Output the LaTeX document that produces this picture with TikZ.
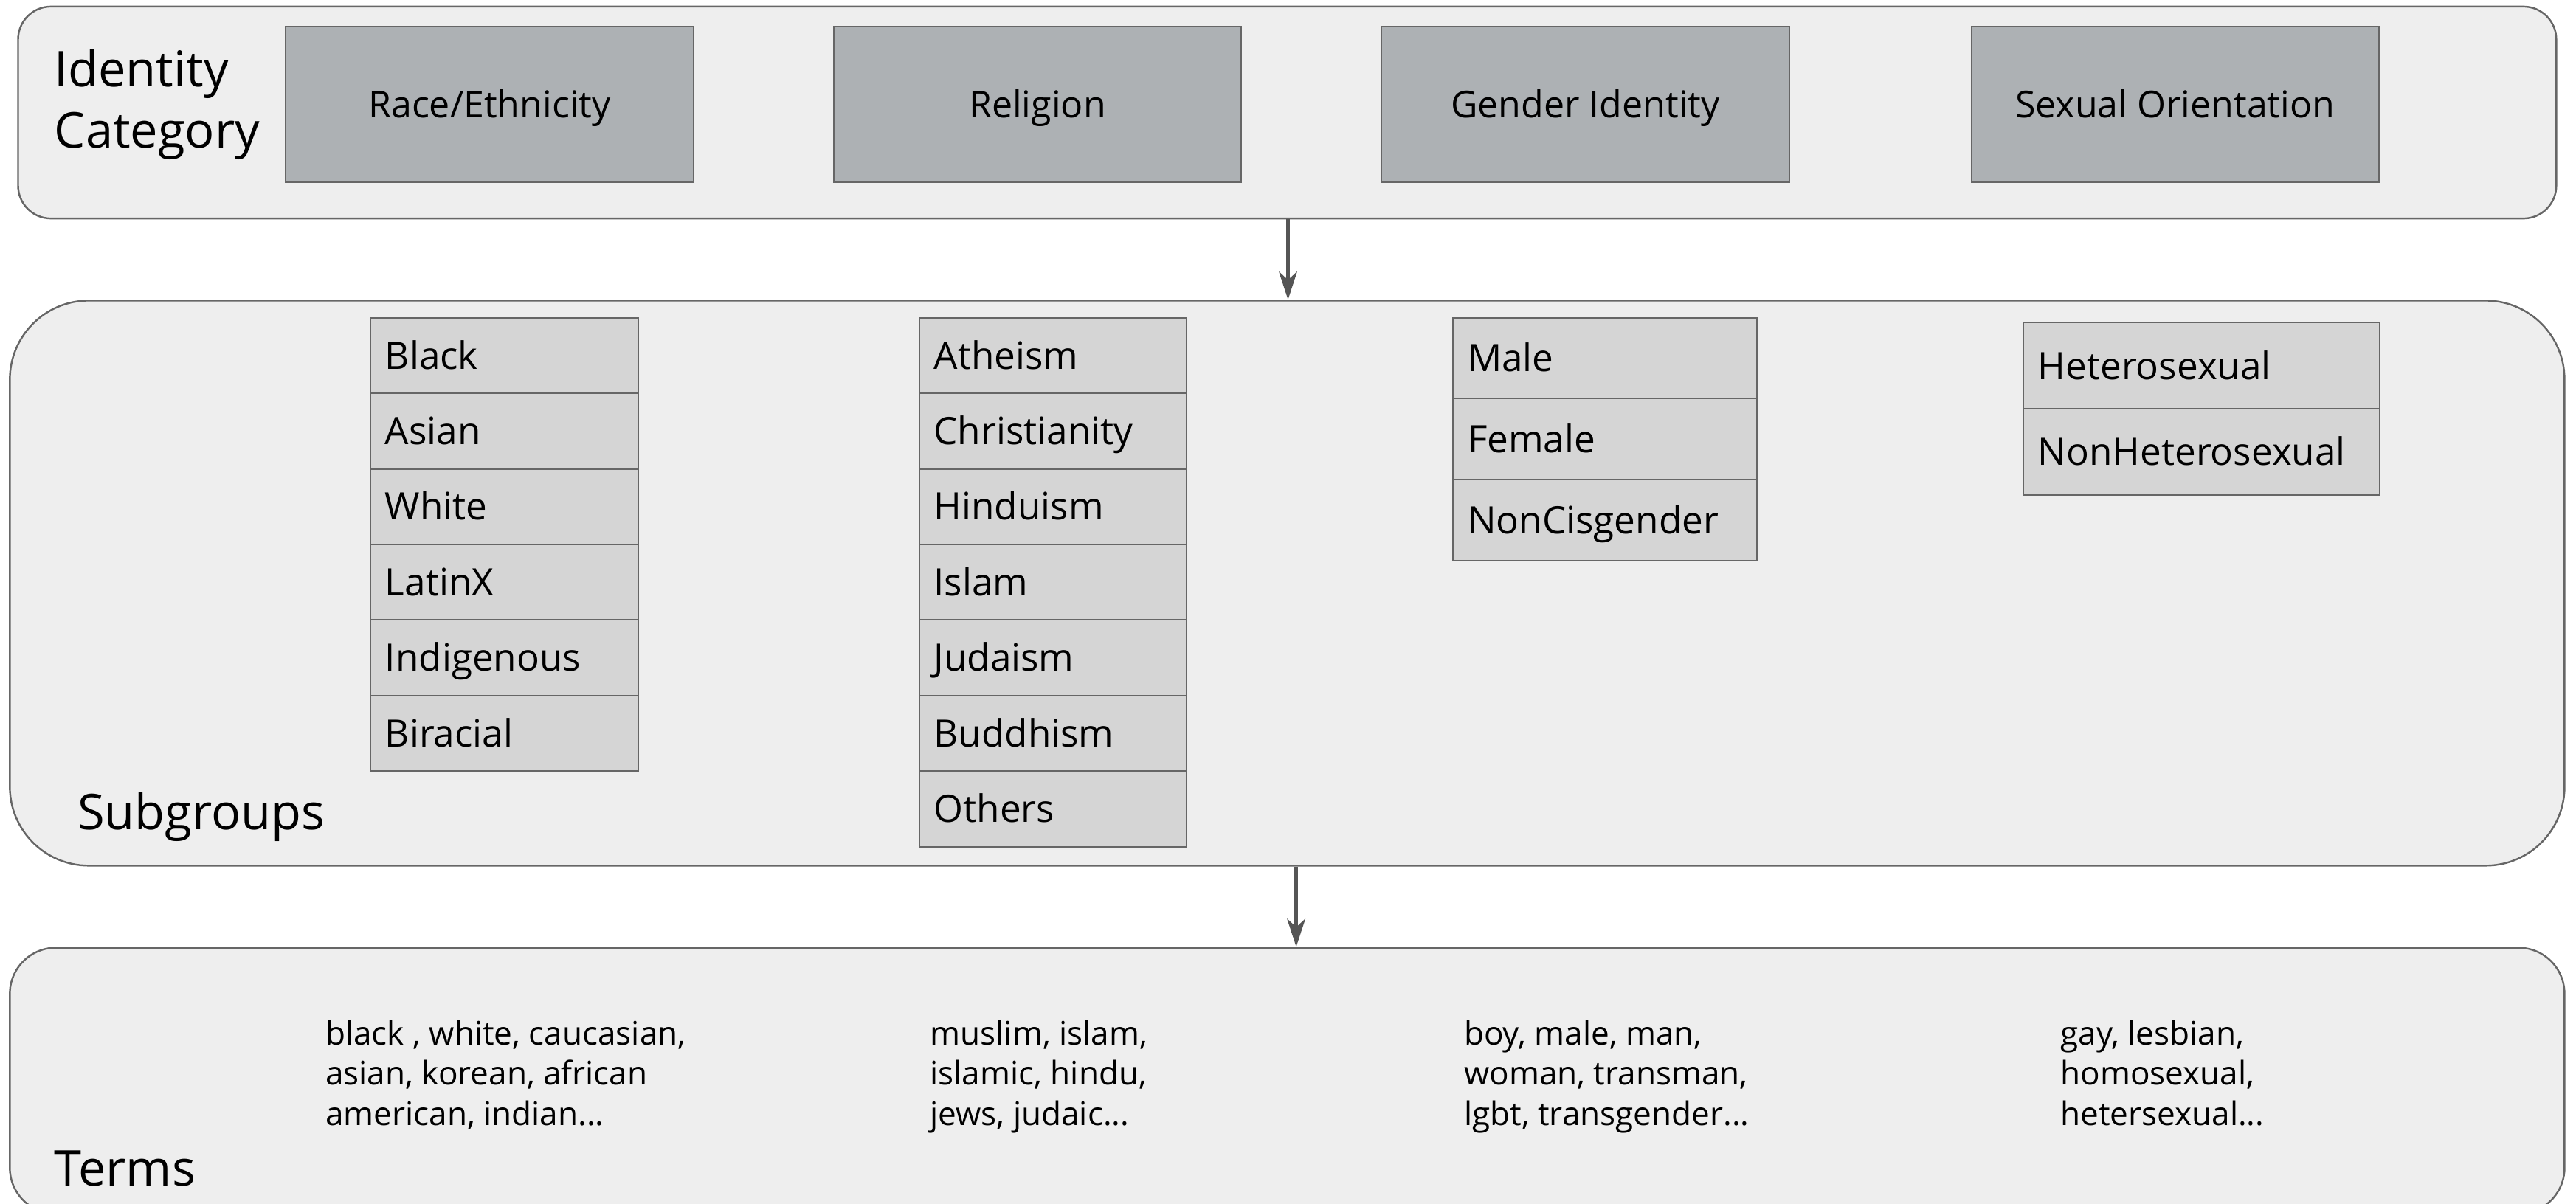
\documentclass[tikz,border=0pt]{standalone}
\usepackage{fontspec}
\setmainfont{Open Sans}
\usetikzlibrary{arrows.meta}
\definecolor{panelfill}{HTML}{EEEEEE}
\definecolor{panelline}{HTML}{666666}
\definecolor{catfill}{HTML}{ADB1B4}
\definecolor{subfill}{HTML}{D5D5D5}
\definecolor{arrcol}{HTML}{555555}
\tikzset{
  panel/.style={draw=panelline, fill=panelfill, line width=1.1pt, inner sep=0pt},
  catbox/.style={draw=panelline, fill=catfill, line width=0.9pt, minimum width=248pt, minimum height=95pt, inner sep=0pt, text height=16.4pt, text depth=0pt, font=\fontsize{22.5}{26}\selectfont},
  subrow/.style={draw=panelline, fill=subfill, line width=0.9pt, inner xsep=9pt, inner ysep=0pt, text height=16.4pt, text depth=0pt, align=left, anchor=north west, font=\fontsize{23}{26}\selectfont},
  biglabel/.style={inner sep=0pt, align=left, anchor=base west, font=\fontsize{30}{37}\selectfont},
  terms/.style={inner sep=0pt, align=left, anchor=base west, font=\fontsize{19.8}{24.5}\selectfont},
  flow/.style={draw=arrcol, line width=2.4pt, -{Stealth[length=17pt, width=11pt, inset=5pt]}}
}
\begin{document}
\begin{tikzpicture}[x=1pt, y=-1pt]
\useasboundingbox (0,0) rectangle (1568,733);
% panels
\node[panel, rounded corners=20pt, minimum width=1545pt, minimum height=129pt] (top) at (783.5,68.5) {};
\node[panel, rounded corners=48pt, minimum width=1555pt, minimum height=344pt] (mid) at (783.5,355) {};
\node[panel, rounded corners=28pt, minimum width=1555pt, minimum height=162pt] (bot) at (783.5,658) {};
% top labels
\node[biglabel] (idcat) at (33,90) {Identity\\Category};
\node[catbox] (race) at (298,63.5) {Race/Ethnicity};
\node[catbox] (rel) at (631.5,63.5) {Religion};
\node[catbox] (gen) at (965,63.5) {Gender Identity};
\node[catbox] (sex) at (1324,63.5) {Sexual Orientation};
% arrows
\coordinate (a1) at (784,0);
\coordinate (a2) at (789,0);
\draw[flow] (top.south -| a1) -- (mid.north -| a1);
\draw[flow] (mid.south -| a2) -- (bot.north -| a2);
% subgroups
\foreach \t [count=\i from 0] in {Black,Asian,White,LatinX,Indigenous,Biracial}{
  \node[subrow, text width=145pt, minimum height=46pt] (r\i) at (225,193+46*\i) {\t};
}
\foreach \t [count=\i from 0] in {Atheism,Christianity,Hinduism,Islam,Judaism,Buddhism,Others}{
  \node[subrow, text width=145pt, minimum height=46pt] (g\i) at (559,193+46*\i) {\t};
}
\foreach \t [count=\i from 0] in {Male,Female,NonCisgender}{
  \node[subrow, text width=167pt, minimum height=49.3pt] (s\i) at (884,193+49.3*\i) {\t};
}
\foreach \t [count=\i from 0] in {Heterosexual,NonHeterosexual}{
  \node[subrow, text width=199pt, minimum height=52.5pt] (o\i) at (1231,196+52.5*\i) {\t};
}
\node[biglabel] (subg) at (47,505) {Subgroups};
% terms
\node[terms] (t1) at (198,685) {black , white, caucasian,\\asian, korean, african\\american, indian...};
\node[terms] (t2) at (566,685) {muslim, islam,\\islamic, hindu,\\jews, judaic...};
\node[terms] (t3) at (891,685) {boy, male, man,\\woman, transman,\\lgbt, transgender...};
\node[terms] (t4) at (1254,685) {gay, lesbian,\\homosexual,\\hetersexual...};
\node[biglabel] (termlab) at (33,722) {Terms};
\end{tikzpicture}
\end{document}
